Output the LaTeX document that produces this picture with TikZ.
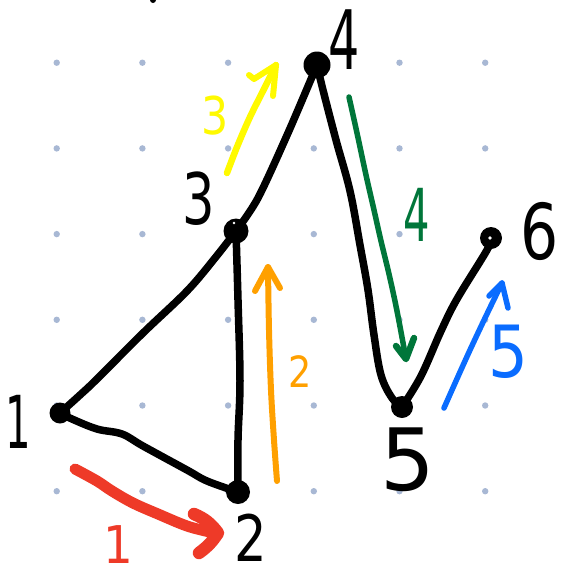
\documentclass[tikz,border=0pt]{standalone}
\usepackage{fontspec}
\setmainfont{DejaVu Sans}
\definecolor{dotc}{RGB}{168,184,212}
\definecolor{redc}{RGB}{238,58,40}
\definecolor{yelc}{RGB}{255,250,0}
\definecolor{orac}{RGB}{255,160,0}
\definecolor{grnc}{RGB}{0,118,58}
\definecolor{bluc}{RGB}{10,108,255}
\begin{document}
\begin{tikzpicture}[x=1pt,y=-1pt,
  edge/.style={line width=7.5pt,line cap=round,line join=round,black},
  vtx/.style={circle,fill=black,inner sep=0pt,minimum size=#1},
  stroke/.style={line width=#1,line cap=round,line join=round},
  lab/.style={inner sep=0pt,font=\fontsize{#1}{#1}\selectfont}]
\useasboundingbox[fill=white] (0,0) rectangle (561,571);
% dot grid
\foreach \i in {0,...,5}{\foreach \j in {0,...,5}{
  \fill[dotc] (56.7+85.7*\i,62.7+85.7*\j) circle (3.2pt);}}
% vertex positions
\coordinate (p1) at (60,413);
\coordinate (p2) at (238,492);
\coordinate (p3) at (236,231);
\coordinate (p4) at (317,65);
\coordinate (p5) at (402,407);
\coordinate (p6) at (491,238);
% edges
\draw[edge] plot[smooth,tension=0.6] coordinates {(p1) (80,395) (97,379) (143,333) (187,291) (215,258) (p3)};
\draw[edge] plot[smooth,tension=0.6] coordinates {(p1) (72,419) (97,429) (122,434) (143,446) (187,470) (207,481) (p2)};
\draw[edge] plot[smooth,tension=0.6] coordinates {(p2) (238,440) (240,381) (238,300) (p3)};
\draw[edge] plot[smooth,tension=0.5] coordinates {(p3) (258,198) (288,133) (p4)};
\draw[edge] plot[smooth,tension=0.6] coordinates {(p4) (323,90) (336,140) (350,191) (360,245) (368,290) (374,335) (381,375) (392,398) (p5)};
\draw[edge] plot[smooth,tension=0.6] coordinates {(p5) (421,376) (441,331) (457,299) (487,250) (p6)};
% vertices
\node[vtx=21pt] (v1) at (p1) {};
\node[vtx=24pt] (v2) at (p2) {};
\node[vtx=25pt] (v3) at (p3) {};
\node[vtx=27pt] (v4) at (p4) {};
\node[vtx=22pt] (v5) at (p5) {};
\node[vtx=22pt] (v6) at (p6) {};
\fill[white] (490,238) circle (1.8pt);
\fill[white] (234,223) circle (1.3pt);
\fill[black] (153,0) circle (3pt);
% vertex labels
\node[lab=73pt,xscale=0.55] (l1) at (18,422) {1};
\node[lab=64pt,xscale=0.8] (l2) at (251,538) {2};
\node[lab=71pt,xscale=0.72] (l3) at (199,199) {3};
\node[lab=82pt,xscale=0.6] (l4) at (344,40) {4};
\node[lab=86pt] (l5) at (408,460) {5};
\node[lab=77pt,xscale=0.78] (l6) at (540,231) {6};
% red arrow 1
\coordinate (r0) at (75,469);
\coordinate (rt) at (218,533);
\draw[stroke=11pt,redc] plot[smooth,tension=0.6] coordinates {(r0) (97,481) (112,491) (133,503) (158,514) (187,526) (210,532)};
\draw[stroke=12.5pt,redc] (194,514) to[bend left=15] (rt) to[bend left=10] (199,553);
\node[lab=52pt,xscale=0.9,text=redc] (n1) at (118,545) {1};
% orange arrow 2
\coordinate (o0) at (277,481);
\coordinate (ot) at (268,267);
\draw[stroke=6pt,orac] plot[smooth,tension=0.6] coordinates {(o0) (274,440) (271,390) (269,330) (ot)};
\draw[stroke=6pt,orac] (255,291) -- (ot) -- (280,288);
\node[lab=43pt,xscale=0.85,text=orac] (n2) at (300,372) {2};
% yellow arrow 3
\coordinate (y0) at (227,173);
\coordinate (yt) at (276,65);
\draw[stroke=6.5pt,yelc] plot[smooth,tension=0.6] coordinates {(y0) (237,147) (250,117) (264,89) (yt)};
\draw[stroke=6pt,yelc] (249,75) -- (254,79) -- (yt) -- (273,96);
\node[lab=52pt,xscale=0.82,text=yelc] (n3) at (215,116) {3};
% green arrow 4
\coordinate (g0) at (349,97);
\coordinate (gt) at (406,359);
\draw[stroke=5.5pt,grnc] plot[smooth,tension=0.6] coordinates {(g0) (357,133) (366,175) (374,210) (381,241) (389,274) (397,311) (gt)};
\draw[stroke=6.5pt,grnc] (396,346) -- (gt) -- (414,338);
\node[lab=73pt,xscale=0.57,text=grnc] (n4) at (417,215) {4};
% blue arrow 5
\coordinate (b0) at (444,408);
\coordinate (bt) at (502,283);
\draw[stroke=5.5pt,bluc] plot[smooth,tension=0.6] coordinates {(b0) (456,381) (470,350) (486,316) (bt)};
\draw[stroke=5.5pt,bluc] (489,296) -- (bt) -- (508,308);
\node[lab=72pt,xscale=0.87,text=bluc] (n5) at (508,352) {5};
\end{tikzpicture}
\end{document}
